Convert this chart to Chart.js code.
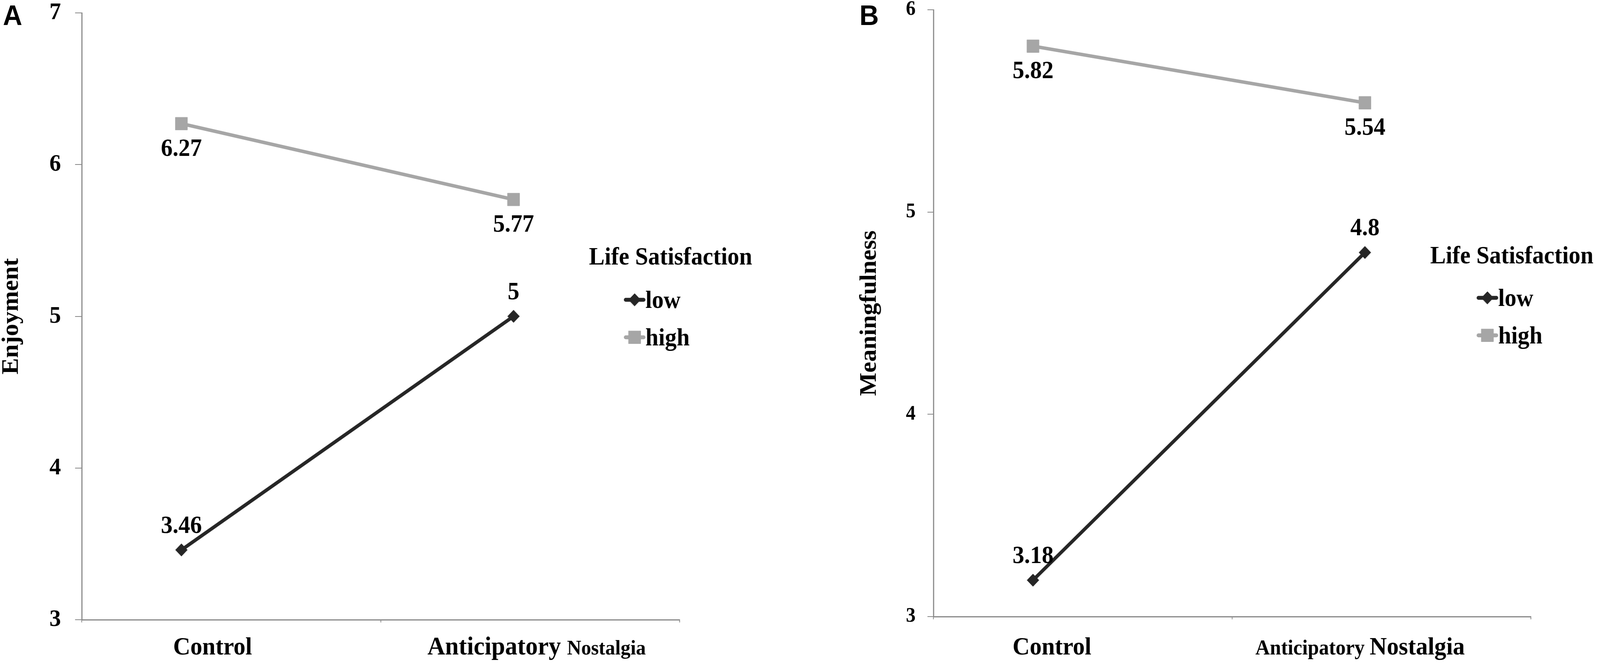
<!DOCTYPE html>
<html>
<head>
<meta charset="utf-8">
<script src="https://cdn.jsdelivr.net/npm/chart.js@4.4.0/dist/chart.umd.min.js"></script>
<style>
  html, body { margin: 0; padding: 0; background: #fff; overflow: hidden; }
  #page { position: absolute; left: 0; top: 0; width: 4306px; height: 1707px; transform-origin: 0 0; background: #fff; }
  .panel { position: absolute; top: 0; }
  .tag { position: absolute; font-family: "Liberation Sans", Arial, sans-serif; font-weight: bold; font-size: 72px; line-height: 1; color: #000; }
</style>
</head>
<body>
<div id="page">
  <canvas id="chartA" class="panel" style="left:0" width="2150" height="1707"></canvas>
  <canvas id="chartB" class="panel" style="left:2150px" width="2156" height="1707"></canvas>
  <div class="tag" style="left:8px;top:3px">A</div>
  <div class="tag" style="left:2313px;top:3px">B</div>
</div>
<script>
// data
const categories = ['Control', 'Anticipatory Nostalgia'];
const seriesNames = ['low', 'high'];
const legendTitle = 'Life Satisfaction';

const enjoymentLow = [3.46, 5];
const enjoymentHigh = [6.27, 5.77];
const enjoymentTicks = [3, 4, 5, 6, 7];

const meaningLow = [3.18, 4.8];
const meaningHigh = [5.82, 5.54];
const meaningTicks = [3, 4, 5, 6];

const SERIF = '"Liberation Serif", "Times New Roman", serif';
const AXIS_GREY = '#888888';

// the figure is laid out at 4306 x 1707, fit it to whatever the window really is
function fitPage() {
    const page = document.getElementById('page');
    const sx = window.innerWidth / 4306;
    const sy = window.innerHeight / 1707;
    page.style.transform = 'scale(' + sx + ',' + sy + ')';
}
fitPage();

// value labels next to each point
const pointLabels = {
    id: 'pointLabels',
    afterDatasetsDraw(chart, args, opts) {
        const ctx = chart.ctx;
        ctx.save();
        ctx.font = 'bold ' + opts.size + 'px ' + SERIF;
        ctx.fillStyle = '#000';
        ctx.textAlign = 'center';
        ctx.textBaseline = 'middle';
        chart.data.datasets.forEach((ds, i) => {
            const meta = chart.getDatasetMeta(i);
            meta.data.forEach((pt, j) => {
                ctx.fillText(String(ds.data[j].y), pt.x, pt.y + opts.shift[i]);
            });
        });
        ctx.restore();
    }
};

// category names under the axis, words can have their own size
const categoryLabels = {
    id: 'categoryLabels',
    afterDraw(chart, args, opts) {
        const ctx = chart.ctx;
        const xs = chart.scales.x;
        ctx.save();
        ctx.fillStyle = '#000';
        ctx.textAlign = 'left';
        ctx.textBaseline = 'alphabetic';
        categories.forEach((cat, i) => {
            const words = cat.split(' ');
            const parts = words.map((w, k) => {
                const font = 'bold ' + opts.sizes[i][k] + 'px ' + SERIF;
                ctx.font = font;
                const text = k < words.length - 1 ? w + ' ' : w;
                return { text, font, w: ctx.measureText(text).width };
            });
            const total = parts.reduce((s, p) => s + p.w, 0);
            let x = xs.getPixelForValue(i) + opts.shift[i] - total / 2;
            parts.forEach(p => {
                ctx.font = p.font;
                ctx.fillText(p.text, x, opts.baseline);
                x += p.w;
            });
        });
        ctx.restore();
    }
};

// legend sitting over the right part of the plot
const sideLegend = {
    id: 'sideLegend',
    afterDraw(chart, args, opts) {
        const ctx = chart.ctx;
        ctx.save();
        ctx.font = 'bold ' + opts.size + 'px ' + SERIF;
        ctx.fillStyle = '#000';
        ctx.textAlign = 'left';
        ctx.textBaseline = 'alphabetic';
        ctx.fillText(legendTitle, opts.titleX, opts.titleY);
        chart.data.datasets.forEach((ds, i) => {
            const y = opts.rowY[i];
            const cy = y - opts.size * 0.33;
            ctx.strokeStyle = ds.borderColor;
            ctx.lineWidth = 10;
            ctx.lineCap = 'round';
            ctx.beginPath();
            ctx.moveTo(opts.markX - 24, cy);
            ctx.lineTo(opts.markX + 24, cy);
            ctx.stroke();
            ctx.fillStyle = ds.backgroundColor;
            ctx.lineWidth = 1;
            Chart.helpers.drawPoint(ctx, { pointStyle: ds.pointStyle, radius: ds.pointRadius, borderWidth: 1, rotation: 0 }, opts.markX, cy);
            ctx.fillStyle = '#000';
            ctx.fillText(ds.label, opts.textX, y);
        });
        ctx.restore();
    }
};

function makeDatasets(low, high) {
    return [
        {
            label: seriesNames[0],
            data: low.map((v, i) => ({ x: i, y: v })),
            borderColor: '#262626',
            backgroundColor: '#262626',
            borderWidth: 9,
            pointStyle: 'rectRot',
            pointRadius: 16,
            pointBorderWidth: 1,
            tension: 0
        },
        {
            label: seriesNames[1],
            data: high.map((v, i) => ({ x: i, y: v })),
            borderColor: '#a6a6a6',
            backgroundColor: '#a6a6a6',
            borderWidth: 9,
            pointStyle: 'rect',
            pointRadius: 23,
            pointBorderWidth: 1,
            tension: 0
        }
    ];
}

function makeChart(id, p) {
    return new Chart(document.getElementById(id), {
        type: 'line',
        data: { datasets: makeDatasets(p.low, p.high) },
        plugins: [pointLabels, categoryLabels, sideLegend],
        options: {
            responsive: false,
            devicePixelRatio: 1,
            animation: false,
            events: [],
            layout: { padding: p.padding },
            scales: {
                x: {
                    type: 'linear',
                    min: -0.3,
                    max: 1.5,
                    afterBuildTicks: s => { s.ticks = [-0.3, 0.6, 1.5].map(v => ({ value: v })); },
                    afterFit: s => { s.height = p.xHeight; s.paddingLeft = 0; s.paddingRight = 0; },
                    ticks: { display: false },
                    grid: { drawOnChartArea: false, drawTicks: true, tickLength: 7, color: AXIS_GREY, lineWidth: 2 },
                    border: { color: AXIS_GREY, width: 3 }
                },
                y: {
                    type: 'linear',
                    min: p.ticks[0],
                    max: p.ticks[p.ticks.length - 1],
                    afterBuildTicks: s => { s.ticks = p.ticks.map(v => ({ value: v })); },
                    // labels may stick out past the ends, the layout padding handles that
                    afterFit: s => { s.width = p.yWidth; s.paddingTop = 0; s.paddingBottom = 0; },
                    ticks: {
                        color: '#000',
                        padding: p.tickPad,
                        font: { family: SERIF, weight: 'bold', size: p.tickSize, lineHeight: 1 }
                    },
                    grid: { drawOnChartArea: false, drawTicks: true, tickLength: p.tickLen, color: AXIS_GREY, lineWidth: 2 },
                    border: { color: AXIS_GREY, width: 3 },
                    title: {
                        display: true,
                        text: p.yTitle,
                        color: '#000',
                        padding: { top: p.titlePad, bottom: 0 },
                        font: { family: SERIF, weight: 'bold', size: 63, lineHeight: 1 }
                    }
                }
            },
            plugins: {
                legend: { display: false },
                tooltip: { enabled: false },
                pointLabels: { size: 63, shift: [-60, 66] },
                categoryLabels: { baseline: 1675, sizes: p.catSizes, shift: p.catShift },
                sideLegend: p.legend
            }
        }
    });
}

makeChart('chartA', {
    low: enjoymentLow,
    high: enjoymentHigh,
    ticks: enjoymentTicks,
    yTitle: 'Enjoyment',
    padding: { left: 0, top: 33, right: 321, bottom: 0 },
    yWidth: 220,
    xHeight: 121,
    tickSize: 62,
    tickPad: 38,
    tickLen: 18,
    titlePad: 0,
    catSizes: [[64], [66, 53]],
    catShift: [84, 62],
    legend: { size: 63, titleX: 1585, titleY: 677, markX: 1708, textX: 1737, rowY: [788, 884] }
});

makeChart('chartB', {
    low: meaningLow,
    high: meaningHigh,
    ticks: meaningTicks,
    yTitle: 'Meaningfulness',
    padding: { left: 154, top: 25, right: 186, bottom: 0 },
    yWidth: 208,
    xHeight: 129,
    tickSize: 52,
    tickPad: 32,
    tickLen: 16,
    titlePad: 5,
    catSizes: [[64], [54, 64]],
    catShift: [51, -13],
    legend: { size: 63, titleX: 1699, titleY: 674, markX: 1853, textX: 1882, rowY: [783, 879] }
});
</script>
</body>
</html>
